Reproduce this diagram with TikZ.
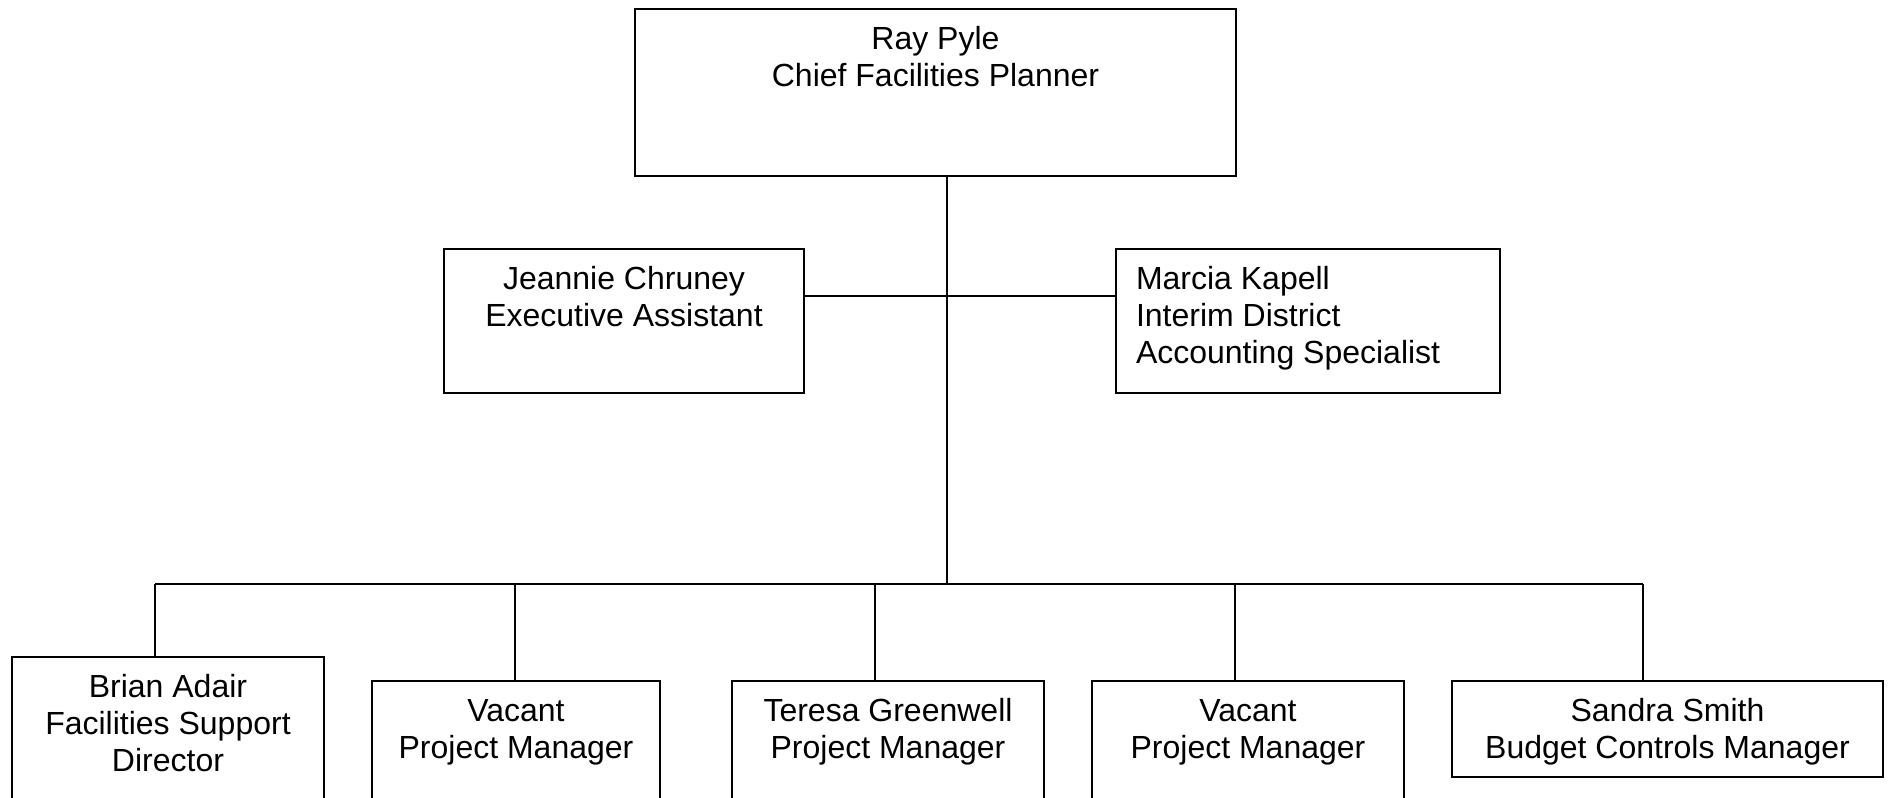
\documentclass[tikz,border=0pt]{standalone}
\usepackage{fontspec}
\setmainfont{Liberation Sans}
\newcommand{\orgtext}[3]{\begin{minipage}[c][#2][t]{#1}\centering\rule{0pt}{40pt}#3\end{minipage}}
\newcommand{\orgtextl}[3]{\begin{minipage}[c][#2][t]{#1}\raggedright\leftskip=20pt\rule{0pt}{40pt}#3\end{minipage}}
\tikzset{
  orgbox/.style={draw=black, line width=2pt, inner sep=0pt, anchor=north west,
    font=\fontsize{32}{37}\selectfont},
  conn/.style={draw=black, line width=2pt}
}
\begin{document}
\begin{tikzpicture}[x=1pt,y=-1pt]
\useasboundingbox (0,0) rectangle (1891,798);
\fill[white] (0,0) rectangle (1891,798);
\clip (0,0) rectangle (1891,798);

% boxes
\node[orgbox] (top) at (634,8) {\orgtext{601pt}{167pt}{Ray Pyle\\Chief Facilities Planner}};
\node[orgbox] (jeannie) at (443,248) {\orgtext{360pt}{144pt}{Jeannie Chruney\\Executive Assistant}};
\node[orgbox] (marcia) at (1115,248) {\orgtextl{384pt}{144pt}{Marcia Kapell\\Interim District\\Accounting Specialist}};
\node[orgbox] (brian) at (11,656) {\orgtext{312pt}{180pt}{Brian Adair\\Facilities Support\\Director}};
\node[orgbox] (vac1) at (371,680) {\orgtext{288pt}{160pt}{Vacant\\Project Manager}};
\node[orgbox] (teresa) at (731,680) {\orgtext{312pt}{160pt}{Teresa Greenwell\\Project Manager}};
\node[orgbox] (vac2) at (1091,680) {\orgtext{312pt}{160pt}{Vacant\\Project Manager}};
\node[orgbox] (sandra) at (1451,680) {\orgtext{431pt}{96pt}{Sandra Smith\\Budget Controls Manager}};

% junction points
\coordinate (trunk) at (947,296);
\coordinate (bus) at (947,584);
\coordinate (d1) at (155,584);
\coordinate (d2) at (515,584);
\coordinate (d3) at (875,584);
\coordinate (d4) at (1235,584);
\coordinate (d5) at (1643,584);

% connectors
\draw[conn] (top.south -| bus) -- (bus);
\draw[conn] (jeannie.east |- trunk) -- (marcia.west |- trunk);
\draw[conn] (d1) -- (d5);
\draw[conn] (d1) -- (brian.north -| d1);
\draw[conn] (d2) -- (vac1.north -| d2);
\draw[conn] (d3) -- (teresa.north -| d3);
\draw[conn] (d4) -- (vac2.north -| d4);
\draw[conn] (d5) -- (sandra.north -| d5);
\end{tikzpicture}
\end{document}
